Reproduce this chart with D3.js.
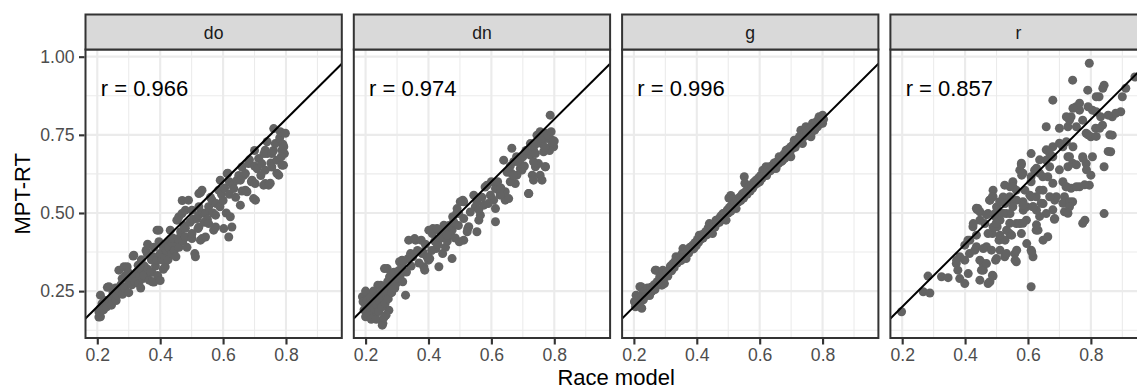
<!DOCTYPE html>
<html><head><meta charset="utf-8">
<script src="https://cdn.jsdelivr.net/npm/d3@7"></script>
<style>body{margin:0;background:#fff} svg{display:block;font-family:"Liberation Sans",Arial,Helvetica,sans-serif}</style>
</head><body><svg id="c" width="1137" height="390"></svg>
<script>
const panels = ["do","dn","g","r"];
const rLabels = ["r = 0.966","r = 0.974","r = 0.996","r = 0.857"];
const xTicks = [0.2,0.4,0.6,0.8];
const yTicks = [0.25,0.5,0.75,1.0];
const xMinor = [0.3,0.5,0.7,0.9];
const yMinor = [0.125,0.375,0.625,0.875];
const xTitle = "Race model";
const yTitle = "MPT-RT";

const doPoints = [
[0.205,0.167],[0.21,0.168],[0.205,0.184],[0.21,0.195],[0.21,0.237],[0.215,0.21],[0.22,0.19],[0.225,0.22],[0.23,0.2],[0.232,0.262],[0.237,0.264],[0.24,0.215],[0.247,0.226],[0.25,0.245],[0.245,0.205],[0.255,0.235],[0.26,0.22],[0.263,0.237],[0.258,0.26],
[0.2686,0.317],[0.27,0.25],[0.275,0.27],[0.279,0.29],[0.28,0.24],[0.285,0.328],[0.288,0.26],[0.29,0.3],[0.295,0.328],[0.3,0.274],[0.3,0.245],[0.298,0.31],
[0.305,0.29],[0.31,0.27],[0.314,0.362],[0.316,0.365],[0.318,0.3],[0.32,0.28],[0.325,0.31],[0.33,0.333],[0.332,0.274],[0.335,0.3],[0.34,0.32],[0.338,0.26],[0.34,0.35],
[0.345,0.29],[0.348,0.3],[0.35,0.33],[0.355,0.38],[0.359,0.37],[0.36,0.4],[0.36,0.32],[0.365,0.285],[0.37,0.31],[0.372,0.35],[0.374,0.31],[0.375,0.28],[0.378,0.36],[0.38,0.279],[0.38,0.39],
[0.385,0.33],[0.39,0.349],[0.39,0.445],[0.392,0.3],[0.396,0.408],[0.396,0.445],[0.4,0.284],[0.4,0.37],[0.405,0.35],[0.41,0.39],[0.41,0.32],[0.415,0.36],[0.416,0.328],[0.42,0.4],[0.42,0.38],
[0.425,0.35],[0.427,0.408],[0.427,0.391],[0.432,0.445],[0.437,0.37],[0.438,0.402],[0.44,0.42],[0.445,0.38],[0.45,0.36],[0.453,0.477],[0.458,0.418],[0.459,0.487],[0.459,0.413],[0.46,0.39],
[0.465,0.44],[0.469,0.498],[0.47,0.54],[0.472,0.41],[0.475,0.46],[0.48,0.451],[0.48,0.509],[0.48,0.423],[0.485,0.39],[0.49,0.541],[0.495,0.47],[0.5,0.43],
[0.501,0.418],[0.501,0.509],[0.501,0.434],[0.505,0.48],[0.51,0.37],[0.512,0.36],[0.517,0.482],[0.52,0.45],[0.522,0.493],[0.523,0.562],[0.523,0.52],[0.523,0.455],[0.528,0.413],[0.528,0.565],[0.533,0.573],[0.533,0.418],[0.535,0.5],[0.54,0.47],
[0.544,0.498],[0.544,0.423],[0.55,0.48],[0.554,0.52],[0.554,0.466],[0.56,0.55],[0.565,0.541],[0.568,0.5],[0.57,0.445],[0.576,0.493],[0.576,0.455],[0.578,0.53],
[0.586,0.573],[0.59,0.52],[0.591,0.605],[0.595,0.56],[0.6,0.54],[0.602,0.45],[0.605,0.58],[0.61,0.5],[0.613,0.626],[0.615,0.627],[0.618,0.423],[0.62,0.56],[0.62,0.6],
[0.623,0.488],[0.628,0.455],[0.63,0.59],[0.634,0.578],[0.64,0.55],[0.644,0.605],[0.65,0.62],[0.655,0.525],[0.655,0.605],[0.66,0.647],[0.66,0.57],
[0.665,0.62],[0.671,0.573],[0.671,0.626],[0.676,0.568],[0.681,0.658],[0.684,0.67],[0.69,0.6],[0.692,0.605],[0.697,0.546],[0.7,0.7],[0.7,0.65],[0.702,0.594],[0.703,0.541],
[0.708,0.642],[0.713,0.674],[0.72,0.62],[0.723,0.658],[0.729,0.589],[0.73,0.69],[0.734,0.637],[0.734,0.594],[0.734,0.701],[0.74,0.728],[0.74,0.69],
[0.745,0.589],[0.75,0.595],[0.752,0.66],[0.755,0.647],[0.755,0.69],[0.76,0.7],[0.761,0.77],[0.766,0.722],[0.771,0.627],[0.771,0.669],[0.777,0.621],[0.78,0.74],[0.782,0.76],[0.787,0.701],[0.787,0.653],[0.79,0.72],[0.792,0.653],[0.793,0.712],[0.798,0.755],[0.795,0.69],[0.785,0.68]
];

const dnPoints = [
[0.2,0.168],[0.19,0.232],[0.221,0.242],[0.248,0.269],[0.269,0.322],[0.285,0.306],[0.327,0.237],[0.274,0.189],[0.232,0.178],[0.253,0.141],[0.207,0.237],[0.202,0.205],[0.192,0.216],[0.223,0.184],[0.255,0.147],[0.265,0.173],[0.239,0.269],[0.26,0.322],[0.276,0.295],[0.297,0.274],[0.308,0.344],[0.335,0.354],[0.33,0.311],
[0.195,0.19],[0.2,0.25],[0.205,0.22],[0.21,0.175],[0.212,0.2],[0.215,0.23],[0.218,0.16],[0.22,0.21],[0.225,0.25],[0.228,0.195],[0.23,0.225],[0.234,0.16],[0.236,0.205],[0.24,0.235],[0.242,0.185],[0.245,0.215],[0.25,0.25],[0.252,0.2],[0.255,0.23],[0.258,0.165],[0.26,0.26],[0.262,0.21],[0.266,0.24],[0.27,0.28],[0.272,0.225],[0.278,0.26],[0.28,0.3],[0.283,0.245],[0.288,0.28],[0.29,0.31],[0.293,0.26],[0.3,0.29],[0.305,0.315],[0.31,0.3],[0.315,0.33],[0.318,0.28],[0.32,0.345],
[0.316,0.349],[0.343,0.37],[0.337,0.413],[0.359,0.413],[0.38,0.37],[0.4,0.349],[0.412,0.434],[0.401,0.445],[0.433,0.445],[0.475,0.354],[0.433,0.328],[0.385,0.328],[0.454,0.39],[0.475,0.445],[0.356,0.418],[0.377,0.413],[0.382,0.375],[0.388,0.317],[0.404,0.354],[0.414,0.45],[0.424,0.386],[0.446,0.44],[0.477,0.488],[0.498,0.408],[0.509,0.541],[0.525,0.45],
[0.345,0.33],[0.35,0.36],[0.365,0.38],[0.37,0.34],[0.39,0.4],[0.395,0.36],[0.41,0.38],[0.42,0.41],[0.43,0.4],[0.44,0.42],[0.445,0.37],[0.45,0.45],[0.46,0.41],[0.465,0.46],[0.47,0.43],[0.48,0.47],[0.485,0.42],[0.49,0.5],[0.495,0.46],
[0.512,0.413],[0.496,0.498],[0.512,0.536],[0.544,0.557],[0.56,0.477],[0.528,0.456],[0.549,0.519],[0.58,0.583],[0.613,0.472],[0.607,0.541],[0.623,0.573],[0.639,0.562],[0.644,0.541],[0.665,0.626],[0.665,0.707],[0.639,0.669],[0.687,0.669],[0.697,0.637],[0.676,0.594],[0.719,0.562],[0.73,0.621],[0.74,0.648],[0.75,0.658],[0.761,0.605],[0.772,0.648],[0.734,0.701],[0.708,0.69],[0.75,0.744],[0.772,0.755],[0.793,0.733],[0.798,0.712],[0.787,0.813],[0.76,0.722],[0.724,0.722],
[0.777,0.738],[0.792,0.717],[0.766,0.696],[0.745,0.749],[0.755,0.76],[0.671,0.664],[0.724,0.685],[0.734,0.664],[0.771,0.648],[0.755,0.621],[0.734,0.605],[0.718,0.562],[0.692,0.642],[0.681,0.621],[0.66,0.6],[0.644,0.568],[0.655,0.546],[0.628,0.557],[0.613,0.578],[0.586,0.589],[0.597,0.557],[0.613,0.514],[0.576,0.525],[0.554,0.536],[0.533,0.503],[0.501,0.536],[0.491,0.514],[0.512,0.482],[0.48,0.471],[0.449,0.461],[0.427,0.45],[0.459,0.429],[0.523,0.44],[0.554,0.44],[0.565,0.493],
[0.56,0.51],[0.57,0.55],[0.59,0.53],[0.6,0.6],[0.62,0.6],[0.63,0.58],[0.65,0.63],[0.66,0.65],[0.67,0.62],[0.68,0.68],[0.69,0.66],[0.7,0.68],[0.705,0.65],[0.71,0.7],[0.74,0.72],[0.76,0.74],[0.78,0.75],[0.785,0.7],[0.79,0.76],[0.8,0.73],[0.77,0.71],[0.74,0.69]
];

const gPoints = [
[0.202,0.216],[0.203,0.216],[0.205,0.2],[0.207,0.237],[0.21,0.22],[0.213,0.205],[0.216,0.23],[0.219,0.264],[0.22,0.215],[0.223,0.264],[0.225,0.195],[0.226,0.24],[0.23,0.222],[0.234,0.25],[0.237,0.233],[0.239,0.242],[0.243,0.26],[0.247,0.245],[0.25,0.236],[0.254,0.262],[0.258,0.25],[0.26,0.258],[0.264,0.27],[0.267,0.255],[0.268,0.317],[0.271,0.317],[0.274,0.28],[0.278,0.27],[0.282,0.295],[0.285,0.283],[0.289,0.269],[0.289,0.3],[0.292,0.317],[0.295,0.29],[0.297,0.274],[0.3,0.305],[0.304,0.31],[0.308,0.298],[0.312,0.318],[0.316,0.33],[0.32,0.315],[0.324,0.338],[0.328,0.325],[0.331,0.345],[0.334,0.36],[0.338,0.34],[0.342,0.352],[0.346,0.36],[0.35,0.348],[0.353,0.37],[0.356,0.386],[0.36,0.365],[0.363,0.375],[0.366,0.354],[0.37,0.38],[0.374,0.372],[0.378,0.39],[0.382,0.385],[0.387,0.397],[0.39,0.385],[0.394,0.405],[0.398,0.395],[0.402,0.415],[0.405,0.405],[0.408,0.429],[0.412,0.415],[0.416,0.43],[0.42,0.42],[0.424,0.434],[0.428,0.44],[0.432,0.43],[0.436,0.452],[0.44,0.466],[0.443,0.445],[0.447,0.46],[0.45,0.434],[0.454,0.465],[0.458,0.455],[0.461,0.477],[0.465,0.468],[0.469,0.48],[0.472,0.47],[0.476,0.49],[0.48,0.478],[0.483,0.498],[0.487,0.49],[0.49,0.5],[0.493,0.477],[0.497,0.51],[0.5,0.5],[0.502,0.548],[0.504,0.518],[0.508,0.556],[0.508,0.505],[0.511,0.525],[0.512,0.545],[0.514,0.541],[0.518,0.52],[0.522,0.535],[0.525,0.514],[0.528,0.545],[0.532,0.535],[0.536,0.55],[0.54,0.54],[0.543,0.558],[0.546,0.562],[0.549,0.548],[0.551,0.616],[0.553,0.595],[0.556,0.57],[0.56,0.56],[0.563,0.578],[0.567,0.584],[0.57,0.57],[0.574,0.59],[0.578,0.58],[0.581,0.598],[0.585,0.59],[0.588,0.605],[0.592,0.595],[0.596,0.612],[0.6,0.6],[0.603,0.62],[0.607,0.61],[0.61,0.637],[0.614,0.62],[0.62,0.648],[0.618,0.632],[0.622,0.62],[0.626,0.64],[0.631,0.648],[0.634,0.635],[0.638,0.65],[0.642,0.642],[0.646,0.66],[0.65,0.65],[0.652,0.642],[0.656,0.665],[0.66,0.658],[0.662,0.68],[0.666,0.67],[0.67,0.665],[0.673,0.669],[0.677,0.688],[0.68,0.675],[0.684,0.701],[0.688,0.69],[0.692,0.705],[0.695,0.69],[0.699,0.712],[0.699,0.68],[0.703,0.705],[0.707,0.72],[0.71,0.733],[0.713,0.71],[0.717,0.725],[0.72,0.735],[0.724,0.73],[0.727,0.745],[0.731,0.765],[0.734,0.74],[0.736,0.722],[0.74,0.752],[0.743,0.745],[0.747,0.776],[0.75,0.755],[0.754,0.765],[0.757,0.75],[0.76,0.77],[0.763,0.744],[0.766,0.76],[0.768,0.787],[0.772,0.775],[0.775,0.765],[0.778,0.79],[0.781,0.78],[0.784,0.776],[0.787,0.8],[0.789,0.808],[0.792,0.79],[0.795,0.787],[0.797,0.805],[0.8,0.813],[0.8,0.787],[0.803,0.8]
];

const rPoints = [
[0.198,0.184],[0.267,0.248],[0.288,0.244],[0.282,0.298],[0.325,0.296],[0.346,0.293],[0.383,0.29],[0.399,0.274],[0.372,0.338],[0.383,0.36],[0.409,0.413],[0.414,0.37],[0.447,0.285],[0.452,0.317],[0.473,0.274],[0.487,0.301],[0.457,0.338],[0.436,0.392],[0.468,0.392],[0.425,0.456],[0.447,0.477],[0.441,0.514],[0.473,0.498],[0.478,0.541],[0.487,0.552],[0.497,0.488],[0.502,0.456],[0.487,0.434],[0.508,0.413],[0.497,0.349],[0.526,0.36],[0.542,0.434],[0.531,0.498],[0.547,0.541],[0.526,0.589],[0.552,0.6],[0.574,0.637],[0.579,0.659],[0.563,0.573],[0.584,0.536],[0.595,0.52],[0.595,0.477],[0.563,0.466],[0.579,0.434],[0.558,0.37],[0.563,0.344],[0.61,0.381],[0.616,0.36],[0.61,0.264],[0.626,0.445],[0.616,0.52],[0.626,0.552],[0.61,0.6],[0.621,0.637],[0.61,0.69],[0.637,0.627],[0.648,0.573],[0.648,0.53],[0.658,0.669],[0.663,0.616],[0.669,0.69],[0.679,0.712],[0.685,0.541],[0.685,0.482],[0.658,0.498],[0.648,0.413],[0.663,0.424],[0.716,0.504],[0.716,0.552],[0.721,0.584],[0.742,0.536],[0.737,0.579],[0.764,0.584],[0.781,0.477],[0.742,0.659],[0.727,0.68],[0.711,0.712],[0.658,0.776],[0.679,0.861],[0.727,0.776],[0.737,0.808],[0.753,0.84],[0.764,0.851],[0.774,0.797],[0.785,0.755],[0.8,0.744],[0.815,0.771],[0.805,0.829],[0.826,0.872],[0.842,0.909],[0.831,0.808],[0.837,0.781],[0.868,0.808],[0.895,0.824],[0.868,0.749],[0.863,0.696],[0.805,0.68],[0.8,0.621],[0.785,0.658],[0.774,0.68],[0.795,0.589],[0.842,0.648],[0.842,0.498],[0.742,0.925],[0.795,0.979],[0.79,0.893],[0.911,0.899],[0.94,0.935],[0.9,0.872],[0.879,0.819],[0.838,0.899],
[0.377,0.317],[0.399,0.349],[0.373,0.349],[0.41,0.306],[0.426,0.466],[0.438,0.511],[0.415,0.413],[0.431,0.381],[0.447,0.349],[0.458,0.317],[0.479,0.28],[0.489,0.298],[0.468,0.338],[0.5,0.354],[0.484,0.381],[0.511,0.381],[0.532,0.37],[0.527,0.413],[0.559,0.349],[0.564,0.381],[0.473,0.434],[0.463,0.466],[0.489,0.455],[0.511,0.477],[0.532,0.445],[0.543,0.498],[0.5,0.519],[0.479,0.541],[0.521,0.551],[0.489,0.573],[0.543,0.584],[0.564,0.541],[0.574,0.466],[0.585,0.509],[0.596,0.402],[0.612,0.375],[0.58,0.621],[0.606,0.557],[0.627,0.509],[0.632,0.445],[0.447,0.504],[0.495,0.498],[0.527,0.53],[0.548,0.429],[0.511,0.429],[0.458,0.386],[0.399,0.397],[0.436,0.429],
[0.817,0.872],[0.791,0.84],[0.764,0.829],[0.743,0.835],[0.722,0.808],[0.817,0.824],[0.855,0.813],[0.7,0.771],[0.732,0.797],[0.754,0.776],[0.828,0.771],[0.791,0.75],[0.817,0.745],[0.86,0.75],[0.855,0.697],[0.722,0.728],[0.7,0.723],[0.743,0.712],[0.658,0.702],[0.637,0.67],[0.679,0.68],[0.732,0.68],[0.775,0.675],[0.754,0.654],[0.786,0.638],[0.727,0.648],[0.7,0.638],[0.669,0.648],[0.627,0.643],[0.579,0.654],[0.584,0.627],[0.61,0.616],[0.647,0.616],[0.679,0.595],[0.711,0.6],[0.722,0.584],[0.754,0.584],[0.78,0.59],[0.711,0.531],[0.732,0.536],[0.69,0.552],[0.669,0.552],[0.637,0.573],[0.61,0.552],[0.59,0.573],[0.552,0.584],[0.542,0.552],[0.51,0.536],[0.489,0.552],[0.52,0.499],[0.552,0.52],[0.584,0.525],[0.616,0.52],[0.637,0.489],[0.679,0.51],[0.642,0.531],[0.732,0.52],[0.727,0.499],[0.684,0.48],[0.774,0.467],[0.436,0.515],[0.468,0.494],[0.499,0.467],[0.542,0.467],[0.584,0.467],[0.627,0.462]
];

const pointSets = [doPoints, dnPoints, gPoints, rPoints];

const svg = d3.select("#c");
const panelW = 256.3, pitch = 268.3, left0 = 85.5;
const panelTop = 49.5, panelBottom = 338, stripTop = 14.5;
const xDomain = [0.1625, 0.9775];
const yDomain = [0.1, 1.023];
const y = d3.scaleLinear().domain(yDomain).range([panelBottom, panelTop]);
const gridCol = "#EBEBEB", borderCol = "#333333";

panels.forEach((name, i) => {
  const L = left0 + i * pitch;
  const x = d3.scaleLinear().domain(xDomain).range([L, L + panelW]);
  const clipId = "clip" + i;
  svg.append("clipPath").attr("id", clipId).append("rect")
    .attr("x", L).attr("y", panelTop).attr("width", panelW).attr("height", panelBottom - panelTop);
  const g = svg.append("g");
  g.append("rect").attr("x", L).attr("y", panelTop).attr("width", panelW)
    .attr("height", panelBottom - panelTop).attr("fill", "#fff");
  const grid = g.append("g").attr("clip-path", `url(#${clipId})`);
  xMinor.forEach(v => grid.append("line").attr("x1", x(v)).attr("x2", x(v))
    .attr("y1", panelTop).attr("y2", panelBottom).attr("stroke", gridCol).attr("stroke-width", 1.07));
  yMinor.forEach(v => grid.append("line").attr("y1", y(v)).attr("y2", y(v))
    .attr("x1", L).attr("x2", L + panelW).attr("stroke", gridCol).attr("stroke-width", 1.07));
  xTicks.forEach(v => grid.append("line").attr("x1", x(v)).attr("x2", x(v))
    .attr("y1", panelTop).attr("y2", panelBottom).attr("stroke", gridCol).attr("stroke-width", 2.13));
  yTicks.forEach(v => grid.append("line").attr("y1", y(v)).attr("y2", y(v))
    .attr("x1", L).attr("x2", L + panelW).attr("stroke", gridCol).attr("stroke-width", 2.13));

  const data = g.append("g").attr("clip-path", `url(#${clipId})`);
  data.selectAll("circle").data(pointSets[i]).join("circle")
    .attr("cx", d => x(d[0])).attr("cy", d => y(d[1])).attr("r", 4.5).attr("fill", "#636363");
  data.append("line")
    .attr("x1", x(xDomain[0])).attr("y1", y(xDomain[0]))
    .attr("x2", x(xDomain[1])).attr("y2", y(xDomain[1]))
    .attr("stroke", "#000").attr("stroke-width", 2);
  data.append("text").attr("x", x(0.35)).attr("y", y(0.9) + 7.6)
    .attr("text-anchor", "middle").attr("font-size", 22).attr("fill", "#000").text(rLabels[i]);

  g.append("rect").attr("x", L).attr("y", panelTop).attr("width", panelW)
    .attr("height", panelBottom - panelTop).attr("fill", "none")
    .attr("stroke", borderCol).attr("stroke-width", 2);

  // strip
  g.append("rect").attr("x", L).attr("y", stripTop).attr("width", panelW)
    .attr("height", panelTop - stripTop).attr("fill", "#D9D9D9")
    .attr("stroke", borderCol).attr("stroke-width", 2);
  g.append("text").attr("x", L + panelW / 2).attr("y", 38.8).attr("text-anchor", "middle")
    .attr("font-size", 17.6).attr("fill", "#1A1A1A").text(name);

  // x axis
  const ax = svg.append("g").attr("transform", `translate(0,${panelBottom + 1})`)
    .call(d3.axisBottom(x).tickValues(xTicks).tickFormat(d3.format(".1f")).tickSize(5.5).tickPadding(4.5));
  ax.select(".domain").remove();
  ax.selectAll(".tick line").attr("stroke", borderCol).attr("stroke-width", 2.13);
  ax.selectAll(".tick text").attr("fill", "#4D4D4D").attr("font-size", 17.6)
    .attr("font-family", "'Liberation Sans',Arial,Helvetica,sans-serif");
});

// y axis
const ay = svg.append("g").attr("transform", `translate(${left0 - 1},0)`)
  .call(d3.axisLeft(y).tickValues(yTicks).tickFormat(d3.format(".2f")).tickSize(5.5).tickPadding(4.5));
ay.select(".domain").remove();
ay.selectAll(".tick line").attr("stroke", borderCol).attr("stroke-width", 2.13);
ay.selectAll(".tick text").attr("fill", "#4D4D4D").attr("font-size", 17.6)
  .attr("font-family", "'Liberation Sans',Arial,Helvetica,sans-serif");

// titles
svg.append("text").attr("x", left0 + (3 * pitch + panelW) / 2).attr("y", 385)
  .attr("text-anchor", "middle").attr("font-size", 22).attr("fill", "#000").text(xTitle);
svg.append("text").attr("transform", `translate(29.5,${(panelTop + panelBottom) / 2}) rotate(-90)`)
  .attr("text-anchor", "middle").attr("font-size", 22).attr("fill", "#000").text(yTitle);
</script></body></html>
